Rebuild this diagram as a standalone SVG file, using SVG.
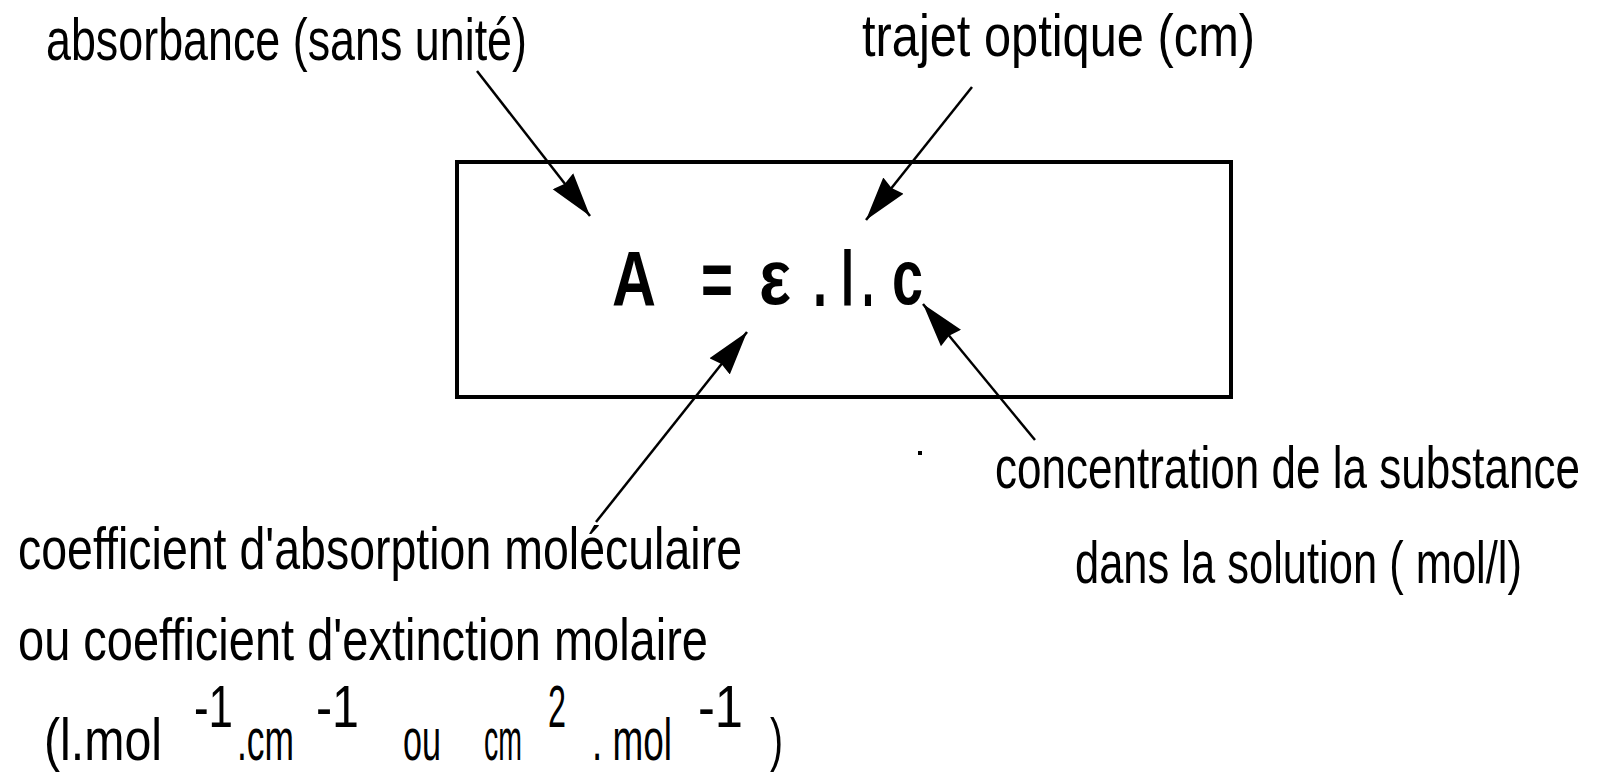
<svg xmlns="http://www.w3.org/2000/svg" width="1598" height="775" viewBox="0 0 1598 775">
<style>
.t{font-family:"Liberation Sans",Arial,sans-serif;font-size:42px;fill:#000;}
.f{font-family:"Liberation Sans",Arial,sans-serif;font-weight:bold;font-size:78px;fill:#000;}
.c{stroke:#000;stroke-width:2.5;fill:none;marker-end:url(#ah);}
</style>
<defs>
<marker id="ah" markerWidth="48" markerHeight="30" refX="44" refY="15" orient="auto" markerUnits="userSpaceOnUse" viewBox="0 0 48 30">
<path d="M44,15 L0,2 L3,15 L0,28 Z" fill="#000"/>
</marker>
</defs>
<rect width="1598" height="775" fill="#fff"/>
<g id="box">
<rect x="457" y="162" width="774" height="235" fill="none" stroke="#000" stroke-width="4"/>
</g>
<g id="formula">
<text class="f" x="612" y="306" textLength="44" lengthAdjust="spacingAndGlyphs">A</text>
<text class="f" x="701" y="306" textLength="32" lengthAdjust="spacingAndGlyphs">=</text>
<text class="f" x="759" y="304" textLength="32" lengthAdjust="spacingAndGlyphs">ε</text>
<text class="f" x="813" y="306" textLength="14" lengthAdjust="spacingAndGlyphs">.</text>
<text class="f" x="841" y="306" font-size="92" textLength="13" lengthAdjust="spacingAndGlyphs">l</text>
<text class="f" x="862" y="306" textLength="12" lengthAdjust="spacingAndGlyphs">.</text>
<text class="f" x="892" y="304" textLength="31" lengthAdjust="spacingAndGlyphs">c</text>
</g>
<g id="label-absorbance">
<text class="t" transform="translate(46,60) scale(1,1.42)" textLength="481" lengthAdjust="spacingAndGlyphs">absorbance (sans unité)</text>
</g>
<g id="label-trajet">
<text class="t" transform="translate(862,56) scale(1,1.42)" textLength="393" lengthAdjust="spacingAndGlyphs">trajet optique (cm)</text>
</g>
<g id="label-concentration">
<text class="t" transform="translate(995,488) scale(1,1.42)" textLength="585" lengthAdjust="spacingAndGlyphs">concentration de la substance</text>
<text class="t" transform="translate(1075,583) scale(1,1.42)" textLength="447" lengthAdjust="spacingAndGlyphs">dans la solution ( mol/l)</text>
</g>
<g id="label-coefficient">
<text class="t" transform="translate(18,569) scale(1,1.42)" textLength="724" lengthAdjust="spacingAndGlyphs">coefficient d'absorption moléculaire</text>
<text class="t" transform="translate(18,660) scale(1,1.42)" textLength="690" lengthAdjust="spacingAndGlyphs">ou coefficient d'extinction molaire</text>
<text class="t" transform="translate(44,760) scale(1,1.42)" textLength="118" lengthAdjust="spacingAndGlyphs">(l.mol</text>
<text class="t" transform="translate(194,727) scale(1,1.42)" textLength="39" lengthAdjust="spacingAndGlyphs">-1</text>
<text class="t" transform="translate(237,760) scale(1,1.42)" textLength="57" lengthAdjust="spacingAndGlyphs">.cm</text>
<text class="t" transform="translate(316,727) scale(1,1.42)" textLength="43" lengthAdjust="spacingAndGlyphs">-1</text>
<text class="t" transform="translate(403,760) scale(1,1.42)" textLength="38" lengthAdjust="spacingAndGlyphs">ou</text>
<text class="t" transform="translate(484,760) scale(1,1.42)" textLength="38" lengthAdjust="spacingAndGlyphs">cm</text>
<text class="t" transform="translate(548,727) scale(1,1.42)" textLength="18" lengthAdjust="spacingAndGlyphs">2</text>
<text class="t" transform="translate(592,760) scale(1,1.42)" textLength="80" lengthAdjust="spacingAndGlyphs">. mol</text>
<text class="t" transform="translate(698,727) scale(1,1.42)" textLength="45" lengthAdjust="spacingAndGlyphs">-1</text>
<text class="t" transform="translate(770,760) scale(1,1.42)" textLength="13" lengthAdjust="spacingAndGlyphs">)</text>
</g>
<g id="connectors">
<line class="c" x1="477" y1="71" x2="590" y2="216"/>
<line class="c" x1="972" y1="87" x2="866" y2="220"/>
<line class="c" x1="596" y1="522" x2="747" y2="332"/>
<line class="c" x1="1035" y1="440" x2="923" y2="304"/>
<rect x="918" y="451" width="4" height="4" fill="#000"/>
</g>
</svg>
